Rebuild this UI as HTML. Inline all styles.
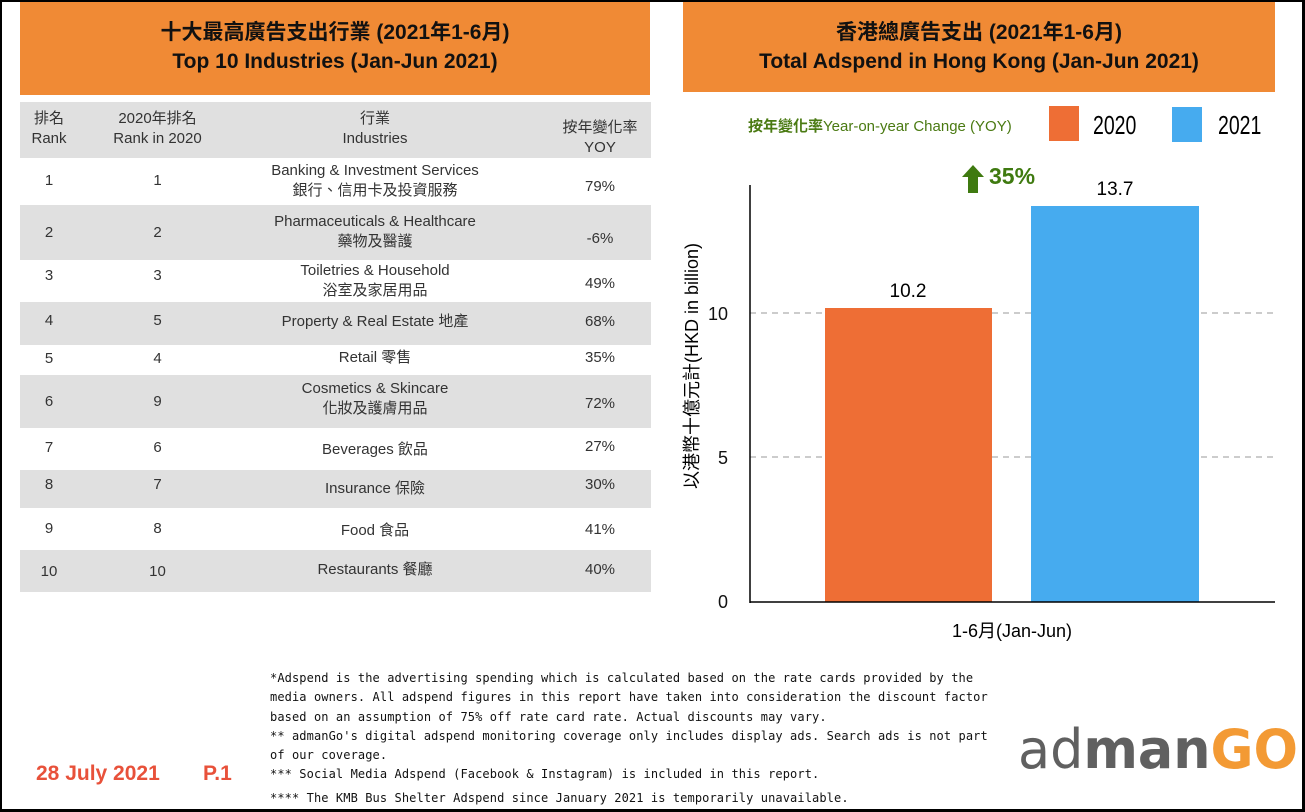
<!DOCTYPE html>
<html><head><meta charset="utf-8"><style>
*{margin:0;padding:0;box-sizing:border-box}
body{width:1305px;height:812px;position:relative;background:#fff;font-family:"Liberation Sans","Noto Sans CJK TC",sans-serif;overflow:hidden}
.frame{position:absolute;left:0;top:0;width:1305px;height:812px;border:2px solid #000;border-right-width:3px;border-bottom-width:3px;pointer-events:none}
.hdr{position:absolute;background:#F08A35;color:#111;font-weight:bold;text-align:center;font-size:21px;line-height:29px}
.a{position:absolute}
.row{position:absolute;left:20px;width:631px;font-size:15px;color:#333}
.row span{position:absolute;text-align:center;line-height:20px}
.g{background:#e0e0e0}
.c1{left:0;width:58px}.c2{left:75px;width:125px}.c3{left:205px;width:300px}.c4{left:520px;width:120px}
.note{position:absolute;left:270px;top:669px;font-family:"DejaVu Sans Mono","Liberation Mono",monospace;font-size:12px;line-height:19.3px;color:#111;width:735px;letter-spacing:0.1px}
</style></head><body>
<div class="hdr" style="left:20px;top:2px;width:630px;height:93px;padding-top:16px">十大最高廣告支出行業 (2021年1-6月)<br>Top 10 Industries (Jan-Jun 2021)</div>
<div class="hdr" style="left:683px;top:2px;width:592px;height:90px;padding-top:16px">香港總廣告支出 (2021年1-6月)<br>Total Adspend in Hong Kong (Jan-Jun 2021)</div>

<div class="row g" style="top:102px;height:56px"><span class="c1" style="top:7px">排名<br>Rank</span><span class="c2" style="top:7px">2020年排名<br>Rank in 2020</span><span class="c3" style="top:7px">行業<br>Industries</span><span class="c4" style="top:16px">按年變化率<br>YOY</span></div>
<div class="row" style="top:158px;height:47px"><span class="c1" style="top:13px">1</span><span class="c2" style="top:13px">1</span><span class="c3" style="top:3px">Banking &amp; Investment Services<br>銀行、信用卡及投資服務</span><span class="c4" style="top:19px">79%</span></div>
<div class="row g" style="top:205px;height:55px"><span class="c1" style="top:18px">2</span><span class="c2" style="top:18px">2</span><span class="c3" style="top:7px">Pharmaceuticals &amp; Healthcare<br>藥物及醫護</span><span class="c4" style="top:24px">-6%</span></div>
<div class="row" style="top:260px;height:42px"><span class="c1" style="top:6px">3</span><span class="c2" style="top:6px">3</span><span class="c3" style="top:1px">Toiletries &amp; Household<br>浴室及家居用品</span><span class="c4" style="top:14px">49%</span></div>
<div class="row g" style="top:302px;height:43px"><span class="c1" style="top:9px">4</span><span class="c2" style="top:9px">5</span><span class="c3" style="top:10px">Property &amp; Real Estate 地產</span><span class="c4" style="top:10px">68%</span></div>
<div class="row" style="top:345px;height:30px"><span class="c1" style="top:4px">5</span><span class="c2" style="top:4px">4</span><span class="c3" style="top:3px">Retail 零售</span><span class="c4" style="top:3px">35%</span></div>
<div class="row g" style="top:375px;height:53px"><span class="c1" style="top:17px">6</span><span class="c2" style="top:17px">9</span><span class="c3" style="top:4px">Cosmetics &amp; Skincare<br>化妝及護膚用品</span><span class="c4" style="top:19px">72%</span></div>
<div class="row" style="top:428px;height:42px"><span class="c1" style="top:10px">7</span><span class="c2" style="top:10px">6</span><span class="c3" style="top:12px">Beverages 飲品</span><span class="c4" style="top:9px">27%</span></div>
<div class="row g" style="top:470px;height:38px"><span class="c1" style="top:5px">8</span><span class="c2" style="top:5px">7</span><span class="c3" style="top:9px">Insurance 保險</span><span class="c4" style="top:5px">30%</span></div>
<div class="row" style="top:508px;height:42px"><span class="c1" style="top:11px">9</span><span class="c2" style="top:11px">8</span><span class="c3" style="top:13px">Food 食品</span><span class="c4" style="top:12px">41%</span></div>
<div class="row g" style="top:550px;height:42px"><span class="c1" style="top:12px">10</span><span class="c2" style="top:12px">10</span><span class="c3" style="top:10px">Restaurants 餐廳</span><span class="c4" style="top:10px">40%</span></div>

<svg class="a" style="left:0;top:0" width="1305" height="812">
<text x="748" y="131" font-size="15" fill="#4a7a12" font-weight="bold" font-family="Liberation Sans,Noto Sans CJK TC,sans-serif">按年變化率<tspan font-weight="normal">Year-on-year Change (YOY)</tspan></text>
<rect x="1049" y="106" width="30" height="35" fill="#EE6E35"/>
<text transform="translate(1093,134) scale(0.75,1)" font-size="26">2020</text>
<rect x="1172" y="107" width="30" height="35" fill="#46ABEF"/>
<text transform="translate(1218,134) scale(0.75,1)" font-size="26">2021</text>
<line x1="750" y1="313" x2="1275" y2="313" stroke="#bbb" stroke-width="1.5" stroke-dasharray="6,5"/>
<line x1="750" y1="457" x2="1275" y2="457" stroke="#bbb" stroke-width="1.5" stroke-dasharray="6,5"/>
<rect x="825" y="308" width="167" height="294" fill="#EE6E35"/>
<rect x="1031" y="206" width="168" height="396" fill="#46ABEF"/>
<line x1="750" y1="185" x2="750" y2="603" stroke="#000" stroke-width="1.5"/>
<line x1="750" y1="602" x2="1275" y2="602" stroke="#000" stroke-width="1.5"/>
<g font-size="18" fill="#111" text-anchor="end"><text x="728" y="320">10</text><text x="728" y="464">5</text><text x="728" y="608">0</text></g>
<text x="908" y="297" font-size="19" text-anchor="middle">10.2</text>
<text x="1115" y="195" font-size="19" text-anchor="middle">13.7</text>
<polygon points="973,165 984,177 978,177 978,193 968,193 968,177 962,177" fill="#3f7a10"/>
<text x="989" y="184" font-size="23" font-weight="bold" fill="#3f7a10">35%</text>
<text x="1012" y="637" font-size="18" text-anchor="middle" font-family="Liberation Sans,Noto Sans CJK TC,sans-serif">1-6月(Jan-Jun)</text>
<text transform="translate(698,366) rotate(-90)" font-size="18" text-anchor="middle" font-family="Liberation Sans,Noto Sans CJK TC,sans-serif">以港幣十億元計(HKD in billion)</text>
<text x="36" y="780" font-size="21" font-weight="bold" fill="#E8513A">28 July 2021</text>
<text x="203" y="780" font-size="21" font-weight="bold" fill="#E8513A">P.1</text>
<text x="1018" y="768" font-size="54" fill="#606060" font-family="DejaVu Sans,sans-serif" textLength="280" lengthAdjust="spacingAndGlyphs">ad<tspan font-weight="bold">man</tspan><tspan font-weight="bold" fill="#F39A34">GO</tspan></text>
</svg>
<div class="note">*Adspend is the advertising spending which is calculated based on the rate cards provided by the media owners. All adspend figures in this report have taken into consideration the discount factor based on an assumption of 75% off rate card rate. Actual discounts may vary.<br>** admanGo's digital adspend monitoring coverage only includes display ads. Search ads is not part<br>of our coverage.<br>*** Social Media Adspend (Facebook &amp; Instagram) is included in this report.<br><span style="position:relative;top:4px">**** The KMB Bus Shelter Adspend since January 2021 is temporarily unavailable.</span></div>
<div class="frame"></div>
</body></html>
